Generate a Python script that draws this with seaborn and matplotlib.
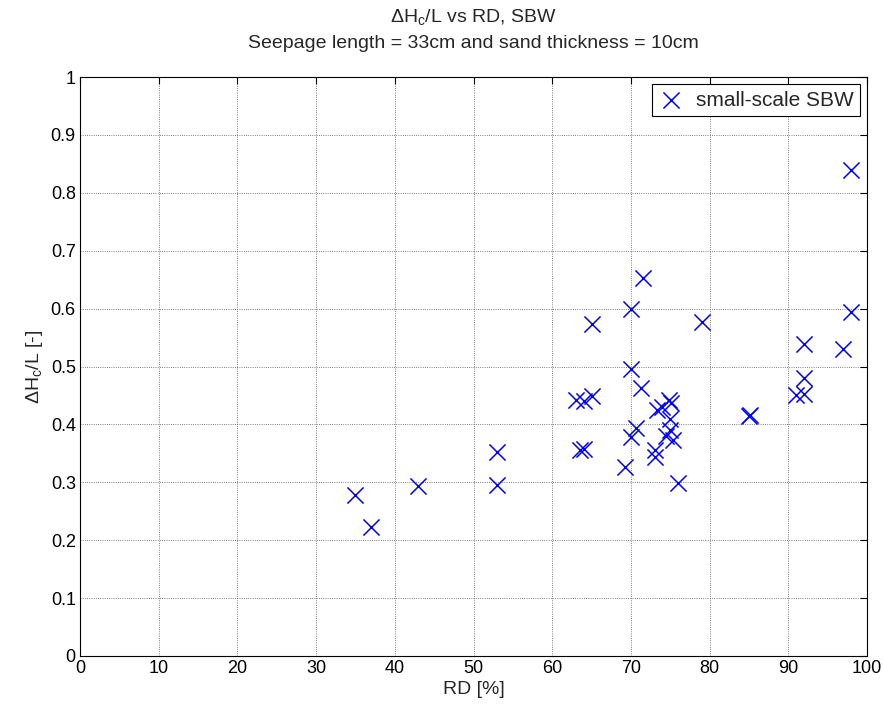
import pandas as pd
import seaborn as sns
import matplotlib.pyplot as plt
from matplotlib import font_manager

# RD [%] and dHc/L [-]
rd = [35, 37, 43, 53, 53, 63, 63.5, 64, 64, 65, 65, 69.3, 70, 70, 70,
      70.6, 71.3, 71.6, 73, 73, 73.3, 74, 74.9, 75.1, 75, 75, 74.5, 75.4,
      76, 79, 85, 85.1, 91, 92, 92, 92, 97, 98, 98]
dhc_l = [0.278, 0.223, 0.293, 0.352, 0.295, 0.442, 0.356, 0.44, 0.357,
         0.449, 0.573, 0.327, 0.599, 0.496, 0.378, 0.393, 0.463, 0.653,
         0.355, 0.343, 0.425, 0.43, 0.443, 0.437, 0.41, 0.39, 0.38, 0.373,
         0.298, 0.576, 0.414, 0.416, 0.45, 0.452, 0.481, 0.538, 0.531,
         0.594, 0.839]

x_ticks = list(range(0, 101, 10))
y_ticks = [i / 10 for i in range(11)]
y_tick_labels = ["0"] + ["0.%d" % i for i in range(1, 10)] + ["1"]

df = pd.DataFrame({"RD": rd, "dHcL": dhc_l})

sns.set_style("white")
names = {f.name for f in font_manager.fontManager.ttflist}
narrow = "Liberation Sans Narrow" if "Liberation Sans Narrow" in names else "Liberation Sans"
plt.rcParams["font.family"] = ["Liberation Sans", "DejaVu Sans"]
plt.rcParams["mathtext.default"] = "regular"

fig = plt.figure(figsize=(8.83, 7.08), dpi=100)
ax = fig.add_axes([80 / 883, 52 / 708, 787 / 883, 579 / 708])

sns.scatterplot(
    data=df, x="RD", y="dHcL", ax=ax,
    marker="x", color="blue", s=135, linewidth=1.1,
    label="small-scale SBW"
)

ax.set_xlim(0, 100)
ax.set_ylim(0, 1)
ax.set_xticks(x_ticks)
ax.set_yticks(y_ticks)
ax.set_xticklabels([str(v) for v in x_ticks], family=narrow, fontsize=13)
ax.set_yticklabels(y_tick_labels, family=narrow, fontsize=13)
ax.tick_params(direction="in", length=5, width=0.8, top=True, right=True,
               colors="black", pad=3)
ax.grid(True, linestyle=":", color="#555555", linewidth=0.6)
for s in ax.spines.values():
    s.set_color("black")
    s.set_linewidth(0.8)

ax.set_xlabel("RD [%]", family=narrow, fontsize=14, labelpad=3)
ax.set_ylabel(r"$\Delta$H$_c$/L [-]", family=narrow, fontsize=14, labelpad=4)
ax.set_title(
    r"$\Delta$H$_c$/L vs RD, SBW" + "\n"
    + "Seepage length = 33cm and sand thickness = 10cm",
    family=narrow, fontsize=14, linespacing=1.6, pad=21
)

leg = ax.legend(loc="upper right", fancybox=False, edgecolor="black",
                framealpha=1, fontsize=15, borderaxespad=0.35,
                handletextpad=0.6, borderpad=0.3, handlelength=1.2)
leg.get_frame().set_linewidth(0.8)

plt.savefig("out.png", dpi=100)
